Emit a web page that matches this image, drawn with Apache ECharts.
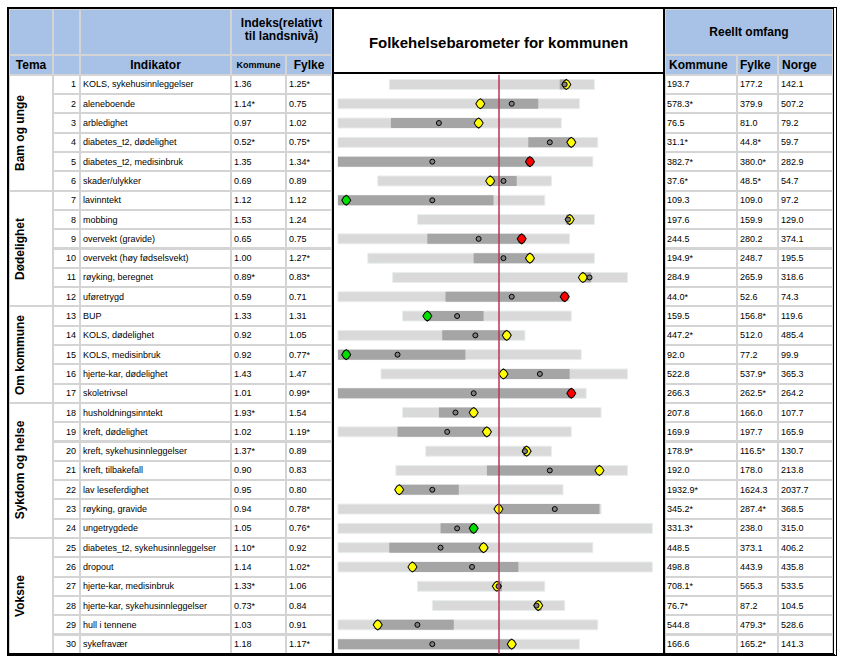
<!DOCTYPE html>
<html>
<head>
<meta charset="utf-8">
<script src="https://cdn.jsdelivr.net/npm/echarts@6/dist/echarts.min.js"></script>
<style>
  body { margin: 0; background: #fff; font-family: "Liberation Sans", Arial, sans-serif; }
  #page { position: relative; width: 846px; height: 667px; overflow: hidden; }
  .c { position: absolute; box-sizing: border-box; white-space: nowrap; overflow: hidden; color: #000; }
  .grid { background: #d4d4d4; }
  .td { background: #fff; font-size: 9px; display: flex; align-items: center; padding-left: 2px; }
  .num { justify-content: flex-end; padding-right: 3px; padding-left: 0; }
  .th { background: #a8c1e6; font-weight: bold; font-size: 12px; display: flex; align-items: center; justify-content: center; text-align: center; }
  .tema { position: absolute; font-weight: bold; font-size: 12px; white-space: nowrap; transform: translate(-50%, -50%) rotate(-90deg); }
  #chart { position: absolute; left: 0; top: 0; width: 846px; height: 667px; z-index: 10; pointer-events: none; }
</style>
</head>
<body>
<div id="page">
  <div id="chart"></div>
</div>
<script>
// tabell-data
const radNr = ['1','2','3','4','5','6','7','8','9','10','11','12','13','14','15','16','17','18','19','20','21','22','23','24','25','26','27','28','29','30'];
const indikator = ['KOLS, sykehusinnleggelser', 'aleneboende', 'arbledighet', 'diabetes_t2, dødelighet', 'diabetes_t2, medisinbruk', 'skader/ulykker',
  'lavinntekt', 'mobbing', 'overvekt (gravide)', 'overvekt (høy fødselsvekt)', 'røyking, beregnet', 'uføretrygd',
  'BUP', 'KOLS, dødelighet', 'KOLS, medisinbruk', 'hjerte-kar, dødelighet', 'skoletrivsel',
  'husholdningsinntekt', 'kreft, dødelighet', 'kreft, sykehusinnleggelser', 'kreft, tilbakefall', 'lav leseferdighet', 'røyking, gravide', 'ungetrygdede',
  'diabetes_t2, sykehusinnleggelser', 'dropout', 'hjerte-kar, medisinbruk', 'hjerte-kar, sykehusinnleggelser', 'hull i tennene', 'sykefravær'];
const indeksKommune = ['1.36','1.14*','0.97','0.52*','1.35','0.69','1.12','1.53','0.65','1.00','0.89*','0.59','1.33','0.92','0.92','1.43','1.01','1.93*','1.02','1.37*','0.90','0.95','0.94','1.05','1.10*','1.14','1.33*','0.73*','1.03','1.18'];
const indeksFylke = ['1.25*','0.75','1.02','0.75*','1.34*','0.89','1.12','1.24','0.75','1.27*','0.83*','0.71','1.31','1.05','0.77*','1.47','0.99*','1.54','1.19*','0.89','0.83','0.80','0.78*','0.76*','0.92','1.02*','1.06','0.84','0.91','1.17*'];
const reeltKommune = ['193.7','578.3*','76.5','31.1*','382.7*','37.6*','109.3','197.6','244.5','194.9*','284.9','44.0*','159.5','447.2*','92.0','522.8','266.3','207.8','169.9','178.9*','192.0','1932.9*','345.2*','331.3*','448.5','498.8','708.1*','76.7*','544.8','166.6'];
const reeltFylke = ['177.2','379.9','81.0','44.8*','380.0*','48.5*','109.0','159.9','280.2','248.7','265.9','52.6','156.8*','512.0','77.2','537.9*','262.5*','166.0','197.7','116.5*','178.0','1624.3','287.4*','238.0','373.1','443.9','565.3','87.2','479.3*','165.2*'];
const reeltNorge = ['142.1','507.2','79.2','59.7','282.9','54.7','97.2','129.0','374.1','195.5','318.6','74.3','119.6','485.4','99.9','365.3','264.2','107.7','165.9','130.7','213.8','2037.7','368.5','315.0','406.2','435.8','533.5','104.5','528.6','141.3'];
const temaNavn = ['Bam og unge', 'Dødelighet', 'Om kommune', 'Sykdom og helse', 'Voksne'];
const temaAntall = [6, 6, 5, 7, 6];

// barometer: 0 = landsnivå, skala -100..100
const spennMin = [-66,-97,-97,-97,-97,-73,-97,-49,-97,-79,-64,-97,-58,-97,-97,-71,-97,-58,-97,-44,-62,-62,-97,-97,-97,-97,-49,-40,-97,-97];
const spennMax = [58,49,38,60,57,32,28,58,43,58,78,43,44,16,50,78,53,62,44,32,78,39,62,93,57,93,28,40,60,49];
const midtMin = [37,-11,-65,18,-97,-5,-97,41,-43,-15,50,-32,-43,-34,-97,2,-97,-36,-61,15,-7,-60,0,-35,-66,-52,-2,23,-73,-97];
const midtMax = [41,24,-12,44,19,11,-3,43,14,19,56,40,-9,5,-20,43,44,-15,-7,18,61,-24,61,-15,-9,12,2,26,-27,8];
const fylkePos = [40,8,-36,31,-40,3,-40,42,-12,3,55,8,-25,-14,-61,25,-15,-26,-31,16,31,-40,34,-25,-35,-16,0,23,-49,-40];
const kommunePos = [41,-11,-12,44,19,-5,-92,43,14,19,51,40,-43,5,-92,3,44,-15,-7,17,61,-60,0,-15,-9,-52,-1,24,-73,8];
const kommuneFarge = ['Y','Y','Y','Y','R','Y','G','Y','R','Y','Y','R','G','Y','G','Y','R','Y','Y','Y','Y','Y','Y','G','Y','Y','Y','Y','Y','Y'];

const fargeKart = { Y: '#ffff00', R: '#ff0000', G: '#00e000' };

// ---- tabeller ----
const page = document.getElementById('page');
function box(x0, y0, x1, y1, cls, html, css) {
  const d = document.createElement('div');
  d.className = 'c ' + (cls || '');
  d.style.left = x0 + 'px';
  d.style.top = y0 + 'px';
  d.style.width = (x1 - x0) + 'px';
  d.style.height = (y1 - y0) + 'px';
  if (html != null) d.innerHTML = html;
  if (css) Object.assign(d.style, css);
  page.appendChild(d);
  return d;
}
function cell(x0, y0, x1, y1, cls, html, css) {
  return box(x0 + 1, y0 + 1, x1 - 1, y1 - 1, cls, html, css);
}
const radTopp = 74.8, radH = 19.3;
const rowY = i => radTopp + i * radH;

// venstre tabell
const vk = [9, 53, 80, 231, 286, 332];
box(9, 9, 332, 654, 'grid');
// header
cell(vk[0], 9, vk[1], 55, 'th');
cell(vk[1], 9, vk[2], 55, 'th');
cell(vk[2], 9, vk[3], 55, 'th');
cell(vk[3], 9, vk[5], 55, 'th', 'Indeks(relativt<br>til landsnivå)', { lineHeight: '13.5px', paddingBottom: '4px' });
cell(vk[0], 55, vk[1], radTopp, 'th', 'Tema');
cell(vk[1], 55, vk[2], radTopp, 'th');
cell(vk[2], 55, vk[3], radTopp, 'th', 'Indikator');
cell(vk[3], 55, vk[4], radTopp, 'th', 'Kommune', { fontSize: '9px' });
cell(vk[4], 55, vk[5], radTopp, 'th', 'Fylke');
// rader
for (let i = 0; i < radNr.length; i++) {
  const y0 = rowY(i), y1 = rowY(i + 1);
  cell(vk[1], y0, vk[2], y1, 'td num', radNr[i]);
  cell(vk[2], y0, vk[3], y1, 'td', indikator[i]);
  cell(vk[3], y0, vk[4], y1, 'td', indeksKommune[i]);
  cell(vk[4], y0, vk[5], y1, 'td', indeksFylke[i]);
}
// tema
let start = 0;
temaNavn.forEach((navn, g) => {
  const slutt = start + temaAntall[g];
  cell(vk[0], rowY(start), vk[1], rowY(slutt), 'td');
  const t = document.createElement('div');
  t.className = 'tema';
  t.textContent = navn;
  t.style.left = '20px';
  t.style.top = ((rowY(start) + rowY(slutt)) / 2) + 'px';
  page.appendChild(t);
  start = slutt;
});

// høyre tabell
const hk = [665, 737, 778, 833];
box(665, 9, 833, 654, 'grid');
cell(hk[0], 9, hk[3], 55, 'th', 'Reellt omfang');
cell(hk[0], 55, hk[1], radTopp, 'th', 'Kommune', { justifyContent: 'flex-start', paddingLeft: '3px' });
cell(hk[1], 55, hk[2], radTopp, 'th', 'Fylke', { justifyContent: 'flex-start', paddingLeft: '2px' });
cell(hk[2], 55, hk[3], radTopp, 'th', 'Norge', { justifyContent: 'flex-start', paddingLeft: '3px' });
for (let i = 0; i < radNr.length; i++) {
  const y0 = rowY(i), y1 = rowY(i + 1);
  cell(hk[0], y0, hk[1], y1, 'td', reeltKommune[i], { paddingLeft: '1px' });
  cell(hk[1], y0, hk[2], y1, 'td', reeltFylke[i]);
  cell(hk[2], y0, hk[3], y1, 'td', reeltNorge[i]);
}

// midtpanel med tittel
box(332, 7, 665, 656, '', null, { background: '#fff', borderLeft: '2px solid #000', borderRight: '2px solid #000', borderTop: '2px solid #000' });
box(332, 71.5, 665, 73.5, '', null, { background: '#000' });
box(334, 9, 663, 71.5, '', 'Folkehelsebarometer for kommunen',
  { fontWeight: 'bold', fontSize: '15px', textAlign: 'center', lineHeight: '67px' });

// ytre ramme
box(7, 7, 837, 656, '', null, {
  borderTop: '2px solid #000', borderLeft: '2px solid #000',
  borderRight: '4px double #000', borderBottom: '3px solid #000', zIndex: 5
});

// ---- barometer ----
const chart = echarts.init(document.getElementById('chart'));

function stolpe(fill, stroke, h) {
  return function (params, api) {
    const y = api.value(2);
    const p0 = api.coord([api.value(0), y]);
    const p1 = api.coord([api.value(1), y]);
    return {
      type: 'rect',
      shape: { x: p0[0], y: p0[1] - h / 2, width: p1[0] - p0[0], height: h },
      style: { fill: fill, stroke: stroke, lineWidth: stroke ? 1 : 0 }
    };
  };
}

const spennData = radNr.map((r, i) => [spennMin[i], spennMax[i], i]);
const midtData = radNr.map((r, i) => [midtMin[i], midtMax[i], i]);
const fylkeData = radNr.map((r, i) => [fylkePos[i], i]);
const kommuneData = radNr.map((r, i) => ({
  value: [kommunePos[i], i],
  itemStyle: { color: fargeKart[kommuneFarge[i]] }
}));

chart.setOption({
  animation: false,
  grid: { left: 333, right: 182, top: radTopp, bottom: 667 - rowY(30) },
  xAxis: { type: 'value', min: -100, max: 100, show: false },
  yAxis: { type: 'category', data: radNr, inverse: true, show: false },
  series: [
    {
      type: 'custom',
      renderItem: stolpe('#d9d9d9', '#e9eeee', 10),
      encode: { x: [0, 1], y: 2 },
      data: spennData,
      z: 1
    },
    {
      type: 'custom',
      renderItem: stolpe('#a5a5a5', null, 10),
      encode: { x: [0, 1], y: 2 },
      data: midtData,
      z: 2
    },
    {
      type: 'scatter',
      symbol: 'path://M5,0 L7.6,1.6 L10,5 L7.6,8.4 L5,10 L2.4,8.4 L0,5 L2.4,1.6 Z',
      symbolSize: [9, 10],
      itemStyle: { borderColor: '#000', borderWidth: 1, opacity: 1 },
      data: kommuneData,
      z: 3,
      markLine: {
        silent: true,
        symbol: 'none',
        label: { show: false },
        lineStyle: { color: '#b8345a', width: 1.5, type: 'solid' },
        data: [{ xAxis: 0 }]
      }
    },
    {
      type: 'scatter',
      symbol: 'circle',
      symbolSize: 5,
      itemStyle: { color: '#808080', borderColor: '#000', borderWidth: 1, opacity: 1 },
      data: fylkeData,
      z: 4
    }
  ]
});
</script>
</body>
</html>
